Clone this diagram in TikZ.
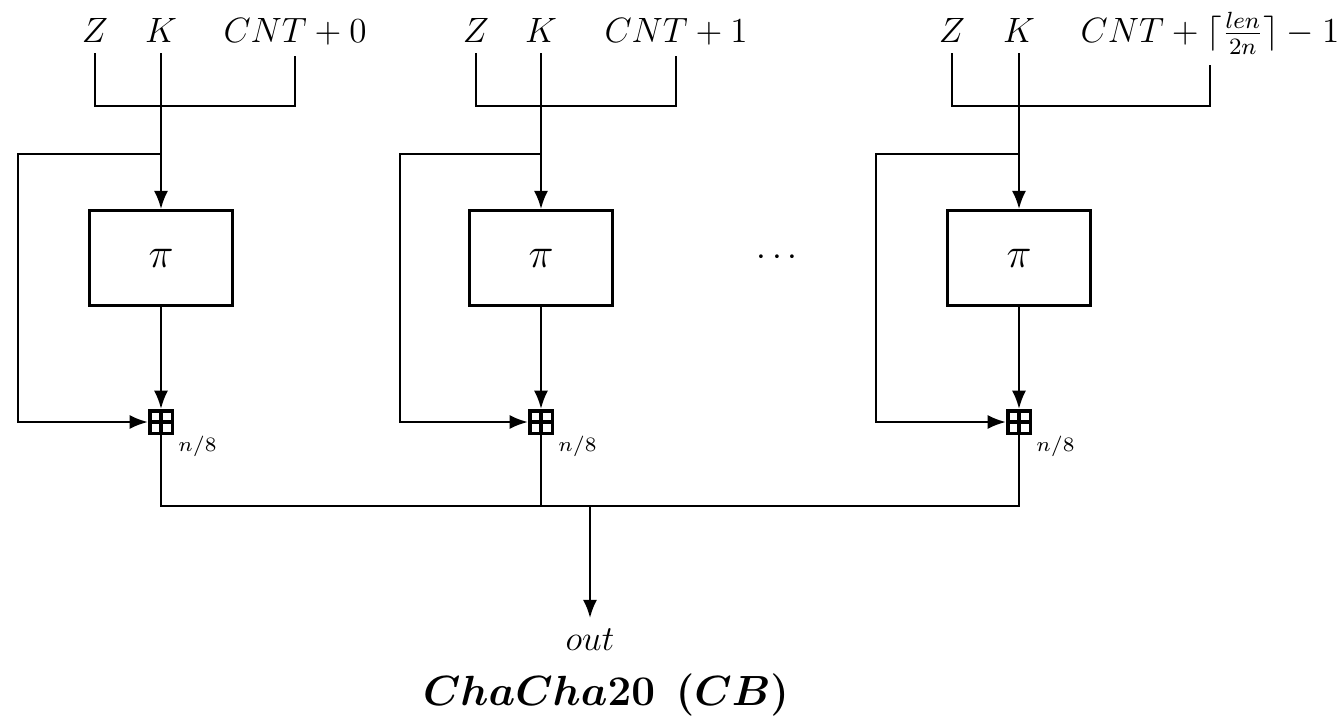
\documentclass[tikz,border=0pt]{standalone}
\usepackage{amsmath,amssymb,bm}
\usetikzlibrary{arrows.meta,positioning,calc}

\begin{document}
\begin{tikzpicture}[x=0.012cm,y=-0.012cm,font=\large,line width=0.9pt,
  >={Latex[length=2.2mm,width=1.7mm]},
  pibox/.style={draw,minimum width=1.72cm,minimum height=1.14cm,font=\Large},
  addbox/.style={draw,line width=1.2pt,minimum size=0.27cm,inner sep=0pt,
    path picture={\draw[line width=1.2pt] (path picture bounding box.north) -- (path picture bounding box.south)
      (path picture bounding box.west) -- (path picture bounding box.east);}}]
  \useasboundingbox (0,0) rectangle (1341,719);
  % trois blocs pi
  \foreach \i/\x/\zx/\cx/\lft/\cnt in {1/161/95/295/18/{CNT+0},2/541/476/676/400/{CNT+1},3/1019/952/1210/876/{CNT+\lceil\frac{len}{2n}\rceil-1}}{
    \node[anchor=base] (z\i) at (\zx,42) {$Z$};
    \node[anchor=base] (k\i) at (\x,42) {$K$};
    \node[anchor=base] (cnt\i) at (\cx,42) {$\cnt$};
    \node[pibox] (pi\i) at (\x,258) {$\pi$};
    \node[addbox] (add\i) at (\x,422) {};
    \node[anchor=north west,font=\scriptsize,inner sep=0pt] (nn\i) at ([xshift=1pt]add\i.south east) {$n/8$};
    \coordinate (j\i) at (\x,106);
    \coordinate (b\i) at (\x,154);
    \coordinate (l\i) at (\lft,154);
    \draw (z\i.south) |- (cnt\i.south |- j\i) -- (cnt\i.south);
    \draw[->] (k\i.south) -- (pi\i);
    \draw[->] (b\i) -- (l\i) |- (add\i);
    \draw[->] (pi\i) -- (add\i);
  }
  \node (dots) at (780,258) {$\cdots$};
  \node (out) at (590,640) {$out$};
  \node (title) at (606,695) {\Large$\boldsymbol{ChaCha20\ \,(CB)}$};
  \coordinate (bus) at (590,506);
  \draw (add1.south) |- (add3.south |- bus) -- (add3.south);
  \draw (add2.south) -- (add2.south |- bus);
  \draw[->] (bus) -- (out.north);
\end{tikzpicture}
\end{document}
